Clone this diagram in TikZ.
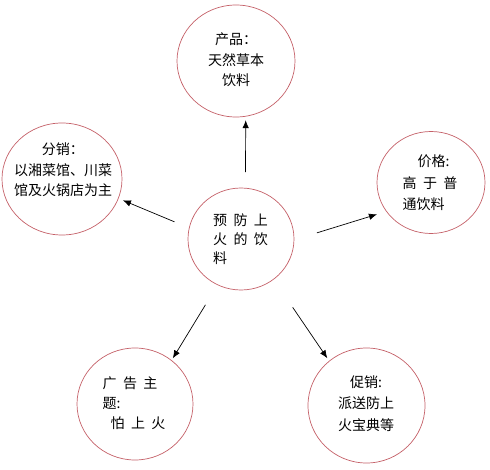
\documentclass[tikz,border=0pt]{standalone}
\usepackage{fontspec}
\setmainfont{Noto Sans CJK SC}
\newfontfamily\spaced[WordSpace=2]{Noto Sans CJK SC}
\usepackage{tikz}
\usetikzlibrary{shapes.geometric,arrows.meta}
\definecolor{ringred}{RGB}{196,96,104}

\begin{document}
\begin{tikzpicture}[x=1pt, y=-1pt, every node/.style={outer sep=0pt},
    bubble/.style={draw=ringred, line width=0.7pt, ellipse, inner sep=0pt},
    txt/.style={inner sep=0pt, font=\fontsize{14}{20.5}\selectfont},
    link/.style={-{Latex[length=8pt,width=6.5pt]}, line width=0.7pt}]
    % page frame
    \useasboundingbox (0,0) rectangle (490,470);

    % the six circles
    \node[bubble, minimum width=106pt, minimum height=102pt] (zx) at (241,239) {};
    \node[bubble, minimum width=118pt, minimum height=112pt] (cp) at (236,61) {};
    \node[bubble, minimum width=120pt, minimum height=112pt] (fx) at (62,179) {};
    \node[bubble, minimum width=108pt, minimum height=102pt] (jg) at (431,182.5) {};
    \node[bubble, minimum width=116pt, minimum height=112pt] (gg) at (135,404) {};
    \node[bubble, minimum width=117pt, minimum height=115pt] (cx) at (366.5,405.5) {};

    % texts inside the circles
    \node[txt, align=left, font=\spaced\fontsize{14}{19}\selectfont] (zx-t) at (240.5,239) {预 防 上\\火 的 饮\\料};
    \node[txt, align=center] (cp-t) at (236,60) {产品：\\天然草本\\饮料};
    \node[txt, align=center] (fx-t) at (63,170) {分销：\\以湘菜馆、川菜\\馆及火锅店为主};
    \node[txt, align=left, font=\spaced\fontsize{14}{21.5}\selectfont] (jg-t) at (430,183) {\hspace*{15pt}价格:\\高 于 普\\通饮料};
    \node[txt, align=left, font=\spaced\fontsize{14}{20}\selectfont] (gg-t) at (134,403) {广 告 主\\题:\\\hspace*{8pt}怕 上 火};
    \node[txt, align=center, font=\fontsize{14}{21.5}\selectfont] (cx-t) at (366,403.5) {促销:\\派送防上\\火宝典等};

    % arrows out of the middle
    \draw[link, shorten <=16pt, shorten >=4pt] (zx.85) -- (cp.-80);
    \draw[link, shorten <=16pt, shorten >=5pt] (zx.168) -- (fx.-19);
    \draw[link, shorten <=24pt, shorten >=10pt] (zx.-1) -- (jg.213);
    \draw[link, shorten <=23.5pt, shorten >=2.5pt] (zx.-117) -- (gg.50);
    \draw[link, shorten <=34pt, shorten >=3.5pt] (zx.-51) -- (cx.130);
\end{tikzpicture}
\end{document}
